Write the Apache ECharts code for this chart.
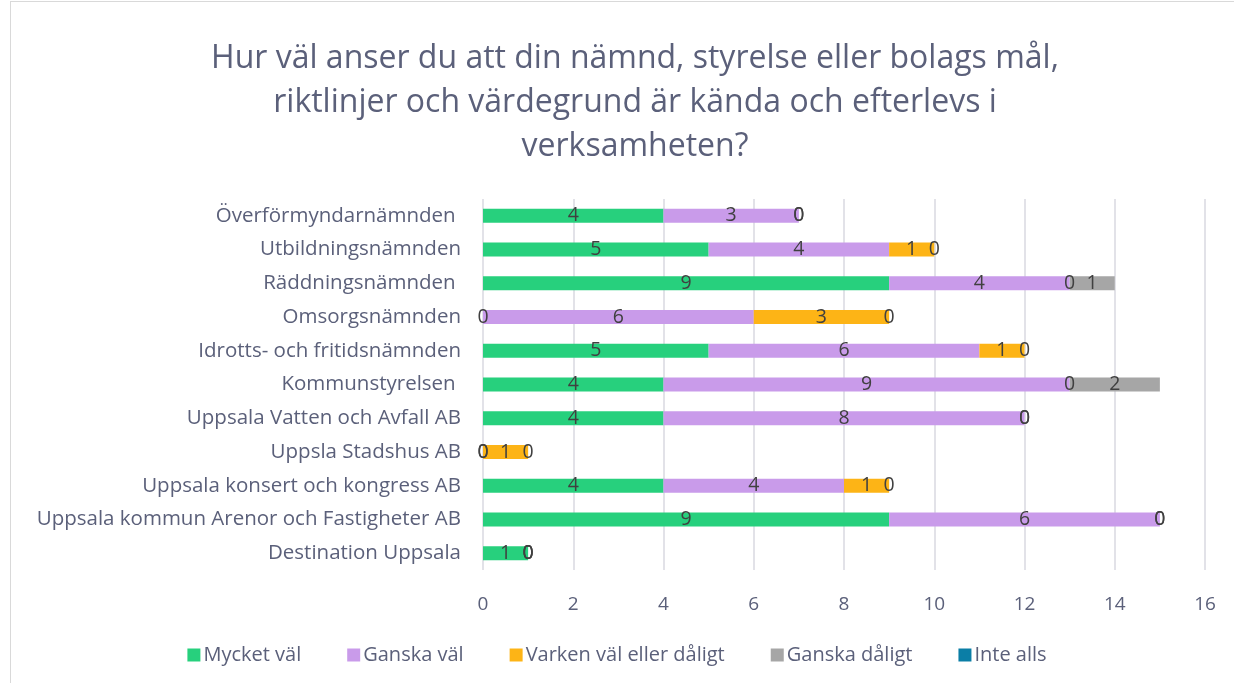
<!DOCTYPE html>
<html>
<head>
<meta charset="utf-8">
<script src="https://cdn.jsdelivr.net/npm/echarts@6/dist/echarts.min.js"></script>
<style>
  html, body { margin: 0; padding: 0; background: #fff; }
  #frame { position: absolute; left: 10px; top: 1px; width: 1240px; height: 690px; border: 1px solid #d9d9d9; box-sizing: border-box; }
  #chart { position: absolute; left: 0; top: 0; width: 1234px; height: 683px; }
</style>
</head>
<body>
<div id="frame"></div>
<div id="chart"></div>
<script>
// categories, top to bottom as in the picture
const categories = [
  'Överförmyndarnämnden ',
  'Utbildningsnämnden',
  'Räddningsnämnden ',
  'Omsorgsnämnden',
  'Idrotts- och fritidsnämnden',
  'Kommunstyrelsen ',
  'Uppsala Vatten och Avfall AB',
  'Uppsla Stadshus AB',
  'Uppsala konsert och kongress AB',
  'Uppsala kommun Arenor och Fastigheter AB',
  'Destination Uppsala'
];

const mycketVal    = [4, 5, 9, 0, 5, 4, 4, 0, 4, 9, 1];
const ganskaVal    = [3, 4, 4, 6, 6, 9, 8, 0, 4, 6, 0];
const varken       = [0, 1, 0, 3, 1, 0, 0, 1, 1, 0, 0];
const ganskaDaligt = [0, 0, 1, 0, 0, 2, 0, 0, 0, 0, 0];
const inteAlls     = [null, null, null, null, null, null, null, null, null, null, null];

const xTicks = [0, 2, 4, 6, 8, 10, 12, 14, 16];

const seriesNames = ['Mycket väl', 'Ganska väl', 'Varken väl eller dåligt', 'Ganska dåligt', 'Inte alls'];
const seriesData = [mycketVal, ganskaVal, varken, ganskaDaligt, inteAlls];
const colors = ['#27d07d', '#c99bea', '#fdb416', '#a6a6a6', '#0b7ea6'];

const textColor = '#5b607a';

const chart = echarts.init(document.getElementById('chart'));

const labelOption = {
  show: true,
  position: 'inside',
  color: '#404040',
  fontFamily: 'Open Sans',
  fontSize: 19.5
};

const option = {
  animation: false,
  color: colors,
  title: {
    text: 'Hur väl anser du att din nämnd, styrelse eller bolags mål,\nriktlinjer och värdegrund är kända och efterlevs i\nverksamheten?',
    left: 630,
    textAlign: 'center',
    top: 32,
    textStyle: {
      fontFamily: 'Open Sans',
      fontSize: 32,
      fontWeight: 'normal',
      color: textColor,
      lineHeight: 44
    }
  },
  legend: {
    bottom: 13,
    left: 'center',
    itemWidth: 13,
    itemHeight: 13,
    itemGap: 46,
    icon: 'rect',
    textStyle: {
      fontFamily: 'Open Sans',
      fontSize: 20,
      color: textColor,
      padding: [0, 0, 0, -2]
    },
    data: seriesNames
  },
  grid: {
    left: 483,
    right: 1234 - 1205,
    top: 199,
    bottom: 683 - 570
  },
  xAxis: {
    type: 'value',
    min: xTicks[0],
    max: xTicks[xTicks.length - 1],
    interval: 2,
    axisLine: { show: false },
    axisTick: { show: false },
    axisLabel: {
      fontFamily: 'Open Sans',
      fontSize: 19,
      color: textColor,
      margin: 25
    },
    splitLine: { lineStyle: { color: '#d9d9e0', width: 1.5 } }
  },
  yAxis: {
    type: 'category',
    inverse: true,
    data: categories,
    axisLine: { show: false },
    axisTick: { show: false },
    axisLabel: {
      fontFamily: 'Open Sans',
      fontSize: 20.5,
      color: textColor,
      margin: 22
    }
  },
  series: seriesNames.map((name, i) => ({
    name: name,
    type: 'bar',
    stack: 'total',
    barWidth: 14,
    label: labelOption,
    data: seriesData[i]
  }))
};

chart.setOption(option);
</script>
</body>
</html>
